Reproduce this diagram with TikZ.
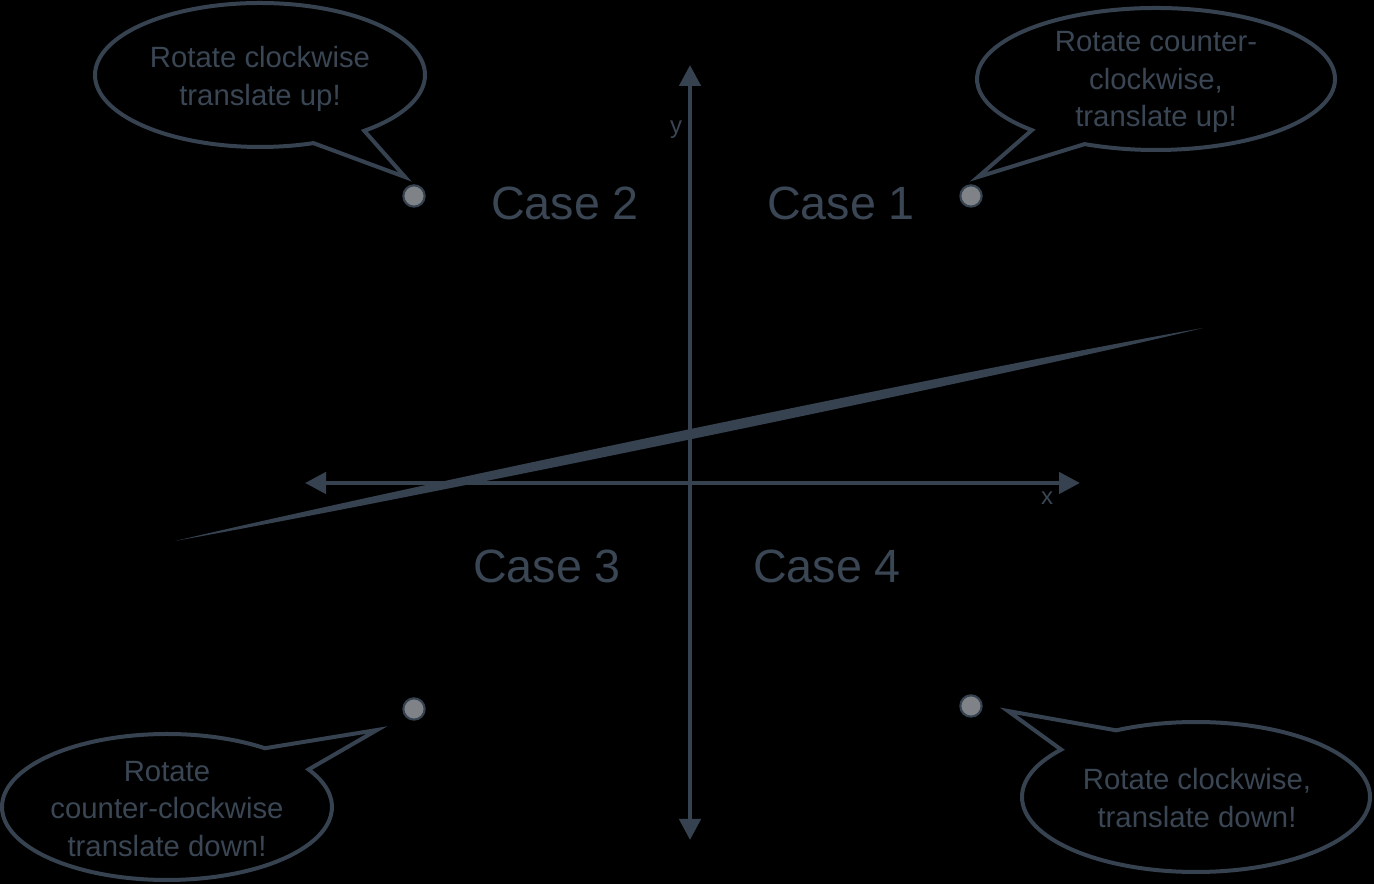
\documentclass[tikz,border=0pt]{standalone}
\usepackage{fontspec}
\setmainfont{Liberation Sans}
\usetikzlibrary{arrows.meta,calc}
\definecolor{ink}{HTML}{36424F}
\definecolor{txt}{HTML}{3A4654}
\definecolor{dotgray}{HTML}{7F8387}
\begin{document}
\begin{tikzpicture}[x=0.75pt,y=0.75pt,
  axis/.style={draw=ink,line width=3.4pt,
    {Triangle[length=15.75pt,width=15.75pt]}-{Triangle[length=15.75pt,width=15.75pt]}},
  callout/.style={draw=ink,line width=3pt,line join=miter},
  calltext/.style={text=txt,align=center,font=\fontsize{22}{28}\selectfont},
  casetext/.style={text=txt,font=\fontsize{35}{42}\selectfont},
  axlabel/.style={text=txt,font=\fontsize{18}{22}\selectfont},
  dotpt/.style={circle,fill=dotgray,draw=ink,line width=1.6pt,minimum size=16pt,inner sep=0pt}]
\fill[black] (0,0) rectangle (1374,884);
\useasboundingbox (0,0) rectangle (1374,884);

% axes
\coordinate (yb) at (690,44);
\coordinate (yt) at (690,819);
\coordinate (xl) at (305,401);
\coordinate (xr) at (1080,401);
\draw[axis] (yb) -- (yt);
\draw[axis] (xl) -- (xr);
\node[axlabel] (xlab) at (1047,386) {x};
\node[axlabel] (ylab) at (676,754) {y};

% tapered line
\coordinate (A) at (175,343);
\coordinate (B) at (1203,556);
\fill[ink] (A) .. controls ($(A)!0.25!(B)+(-1.4,6.6)$) and ($(A)!0.8!(B)+(-1.4,6.6)$) .. (B)
  .. controls ($(A)!0.8!(B)+(1.4,-6.6)$) and ($(A)!0.25!(B)+(1.4,-6.6)$) .. (A) -- cycle;

% case labels
\node[casetext] (c2) at (565,681) {Case 2};
\node[casetext] (c1) at (841,681) {Case 1};
\node[casetext] (c3) at (547,318) {Case 3};
\node[casetext] (c4) at (827,318) {Case 4};

% dots
\node[dotpt] (d2) at (414,688) {};
\node[dotpt] (d1) at (971,688) {};
\node[dotpt] (d3) at (414,175) {};
\node[dotpt] (d4) at (971,178) {};

% callouts
\coordinate (cTL) at (260,809);
\coordinate (tTL) at (405,707);
\draw[callout] (cTL) ++(-50.8:123.75pt and 54pt)
  arc[start angle=-50.8,end angle=288.9,x radius=123.75pt,y radius=54pt] -- (tTL) -- cycle;
\node[calltext] (nTL) at (260,805) {Rotate clockwise\\translate up!};

\coordinate (cTR) at (1156,805);
\coordinate (tTR) at (978,707);
\draw[callout] (cTR) ++(-113.5:134.25pt and 53.25pt)
  arc[start angle=-113.5,end angle=226.1,x radius=134.25pt,y radius=53.25pt] -- (tTR) -- cycle;
\node[calltext] (nTR) at (1156,802) {Rotate counter-\\clockwise,\\translate up!};

\coordinate (cBL) at (167,77);
\coordinate (tBL) at (377,154);
\draw[callout] (cBL) ++(53.6:123.75pt and 54.75pt)
  arc[start angle=53.6,end angle=390.9,x radius=123.75pt,y radius=54.75pt] -- (tBL) -- cycle;
\node[calltext] (nBL) at (167,75) {Rotate\\counter-clockwise\\translate down!};

\coordinate (cBR) at (1196,87);
\coordinate (tBR) at (1008,173);
\draw[callout] (cBR) ++(140.8:130.5pt and 56.25pt)
  arc[start angle=140.8,end angle=477.3,x radius=130.5pt,y radius=56.25pt] -- (tBR) -- cycle;
\node[calltext] (nBR) at (1197,86) {Rotate clockwise,\\translate down!};
\end{tikzpicture}
\end{document}
